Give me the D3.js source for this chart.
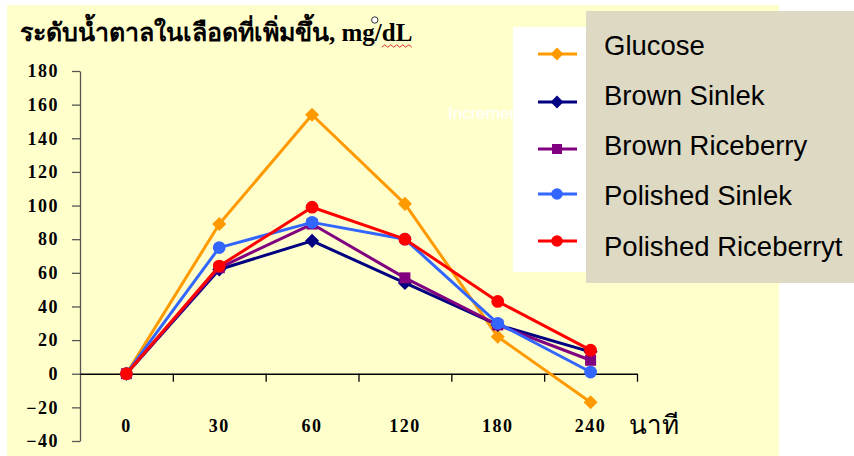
<!DOCTYPE html>
<html>
<head>
<meta charset="utf-8">
<script src="https://cdnjs.cloudflare.com/ajax/libs/d3/7.8.5/d3.min.js"></script>
<style>
  html, body { margin: 0; padding: 0; background: #ffffff; }
  svg { display: block; }
</style>
</head>
<body>
<svg id="chart" width="854" height="456"></svg>
<script>
// Time points (minutes) after intake
const categories = ["0", "30", "60", "120", "180", "240"];
const yTicks = [-40, -20, 0, 20, 40, 60, 80, 100, 120, 140, 160, 180];

// Increase in blood glucose (mg/dL) per test food
const glucose          = [0, 89, 154, 101, 22, -17];
const brownSinlek      = [0, 62, 79, 54, 29, 13];
const brownRiceberry   = [0, 63, 89, 57, 29, 8];
const polishedSinlek   = [0, 75, 90, 80, 30, 1];
const polishedRiceberry = [0, 64, 99, 80, 43, 14];

const seriesNames = ["Glucose", "Brown Sinlek", "Brown Riceberry", "Polished Sinlek", "Polished Riceberryt"];

const series = [
  { name: seriesNames[0], values: glucose,           color: "#FF9900", shape: "diamond" },
  { name: seriesNames[1], values: brownSinlek,       color: "#000080", shape: "diamond" },
  { name: seriesNames[2], values: brownRiceberry,    color: "#800080", shape: "square" },
  { name: seriesNames[3], values: polishedSinlek,    color: "#3366FF", shape: "circle" },
  { name: seriesNames[4], values: polishedRiceberry, color: "#FF0000", shape: "circle" }
];

const serif = "'Liberation Serif', 'Times New Roman', 'DejaVu Serif', serif";
const sans = "'Liberation Sans', Arial, sans-serif";

const svg = d3.select("#chart");

// chart background panel
svg.append("rect").attr("x", 7).attr("y", 5).attr("width", 772).attr("height", 451)
  .attr("fill", "#FFFFCC");

const plot = { left: 80, right: 637, top: 71, bottom: 441 };

const x = d3.scaleBand().domain(categories).range([plot.left, plot.right]);
const xEdge = d3.scaleLinear().domain([0, categories.length]).range([plot.left, plot.right]);
const y = d3.scaleLinear().domain([-40, 180]).range([plot.bottom, plot.top]);

// title: Thai part followed by the unit
const title = svg.append("text")
  .attr("x", 20).attr("y", 41)
  .attr("font-family", serif)
  .attr("font-weight", "bold")
  .attr("font-size", 25)
  .attr("fill", "#000");
title.append("tspan").text("ระดับน้ำตาลในเลือดที่เพิ่มขึ้น, mg/");
const unitEnd = title.append("tspan").text("dL");

// proofing squiggle under "dL" and small ring above the slash
const tb = title.node().getBBox();
const titleRight = tb.x + tb.width;
const dlWidth = unitEnd.node().getComputedTextLength();
const sq = d3.range(0, Math.round(dlWidth / 3) + 1).map(i => [titleRight - dlWidth + i * 3, 46 + (i % 2 ? -1.2 : 1.2)]);
svg.append("path").attr("d", d3.line()(sq)).attr("fill", "none").attr("stroke", "#E03030").attr("stroke-width", 1);
svg.append("circle").attr("cx", titleRight - dlWidth - 7).attr("cy", 20).attr("r", 3.2)
  .attr("fill", "#fff").attr("stroke", "#333").attr("stroke-width", 1);

// faint white caption partly hidden behind the legend panel
svg.append("text")
  .attr("x", 448).attr("y", 119)
  .attr("font-family", sans)
  .attr("font-size", 17)
  .attr("fill", "#ffffff")
  .text("Incremental");

// y axis
const yAxis = d3.axisLeft(y).tickValues(yTicks).tickSize(8).tickSizeOuter(0).tickPadding(13);
const gy = svg.append("g").attr("transform", `translate(${plot.left},0)`).call(yAxis);
gy.select(".domain").attr("stroke", "#555").attr("stroke-width", 1.3);
gy.selectAll(".tick line").attr("stroke", "#555").attr("stroke-width", 1.3);
gy.selectAll(".tick text")
  .attr("font-family", serif)
  .attr("font-weight", "bold")
  .attr("font-size", 18)
  .attr("letter-spacing", 1.5)
  .attr("fill", "#000");

// x axis line at zero with ticks at category boundaries
const xAxis = d3.axisBottom(xEdge).tickValues(d3.range(1, categories.length + 1)).tickSize(8).tickSizeOuter(0).tickFormat("");
const gx = svg.append("g").attr("transform", `translate(0,${y(0)})`).call(xAxis);
gx.select(".domain").attr("stroke", "#000").attr("stroke-width", 1.3);
gx.selectAll(".tick line").attr("stroke", "#000").attr("stroke-width", 1.3);

// category labels along the bottom
svg.append("g").selectAll("text").data(categories).join("text")
  .attr("x", d => x(d) + x.bandwidth() / 2)
  .attr("y", 432)
  .attr("text-anchor", "middle")
  .attr("font-family", serif)
  .attr("font-weight", "bold")
  .attr("font-size", 18)
  .attr("letter-spacing", 1.5)
  .attr("fill", "#000")
  .text(d => d);

svg.append("text")
  .attr("x", 629).attr("y", 434)
  .attr("font-family", serif)
  .attr("font-size", 26)
  .attr("fill", "#000")
  .text("นาที");

// marker drawing helper
function marker(g, shape, color, size) {
  if (shape === "circle") {
    g.append("circle").attr("r", size * 0.58).attr("fill", color);
  } else if (shape === "square") {
    g.append("rect").attr("x", -size / 2).attr("y", -size / 2)
      .attr("width", size).attr("height", size).attr("fill", color);
  } else {
    const s = size * 0.64;
    g.append("path").attr("d", `M0,${-s}L${s},0L0,${s}L${-s},0Z`).attr("fill", color);
  }
}

const line = d3.line()
  .x((d, i) => x(categories[i]) + x.bandwidth() / 2)
  .y(d => y(d));

const lines = svg.append("g");
series.forEach(s => {
  lines.append("path")
    .attr("d", line(s.values))
    .attr("fill", "none")
    .attr("stroke", s.color)
    .attr("stroke-width", 3)
    .attr("stroke-linejoin", "round");
  s.values.forEach((v, i) => {
    const g = lines.append("g")
      .attr("transform", `translate(${x(categories[i]) + x.bandwidth() / 2},${y(v)})`);
    marker(g, s.shape, s.color, 11);
  });
});

// legend
svg.append("rect").attr("x", 513).attr("y", 27).attr("width", 266).attr("height", 245).attr("fill", "#ffffff");
svg.append("rect").attr("x", 586).attr("y", 11).attr("width", 268).attr("height", 272).attr("fill", "#DDD9C3");

const markerY = [54, 102, 149, 194, 241];
const textY = [55, 105, 155, 205, 256];
series.forEach((s, i) => {
  svg.append("line")
    .attr("x1", 538).attr("x2", 577)
    .attr("y1", markerY[i]).attr("y2", markerY[i])
    .attr("stroke", s.color).attr("stroke-width", 3);
  const g = svg.append("g").attr("transform", `translate(557,${markerY[i]})`);
  marker(g, s.shape, s.color, 10);
  svg.append("text")
    .attr("x", 604).attr("y", textY[i])
    .attr("font-family", sans)
    .attr("font-size", 27.5)
    .attr("fill", "#000")
    .text(s.name);
});
</script>
</body>
</html>
